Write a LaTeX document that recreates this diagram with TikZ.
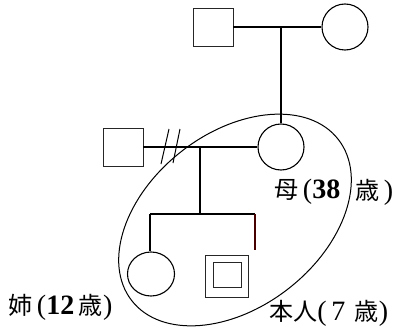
\documentclass[tikz,border=0pt]{standalone}
\usepackage{fontspec}
\usetikzlibrary{shapes.geometric}
\setmainfont{Liberation Serif}
\newfontfamily\cjk{Noto Sans CJK JP}[Scale=0.86]
\begin{document}
\begin{tikzpicture}[x=1pt,y=-1pt,
  male/.style={draw=black!85,line width=0.9pt,minimum width=40pt,minimum height=38pt,inner sep=0pt},
  female/.style={draw,circle,line width=1.1pt,minimum size=46pt,inner sep=0pt},
  tie/.style={line width=1.5pt},
  lbl/.style={anchor=west,inner sep=0pt,font=\fontsize{28}{30}\selectfont}]
\useasboundingbox (0,0) rectangle (399,329);
% grandparents
\node[male] (gf) at (213,27) {};
\node[female] (gm) at (345,27) {};
% parents
\node[male] (fa) at (123,147) {};
\node[female] (mo) at (281,147) {};
% children
\node[draw,ellipse,line width=1.1pt,minimum width=47pt,minimum height=44pt,inner sep=0pt] (si) at (151,274) {};
\node[male,minimum width=43pt,minimum height=42pt] (me) at (227,276) {};
\node[male,minimum width=28pt,minimum height=25pt] (mei) at (227,275) {};
% connectors
\draw[tie] (gf.east) -- (gm.west);
\coordinate (gmid) at (281,27);
\draw[tie] (gmid) -- (mo.north);
\draw[tie] (fa.east) -- (mo.west);
\coordinate (pm) at (200,147);
\coordinate (sib) at (200,214);
\coordinate (sl) at (150,214);
\coordinate (sr) at (255,214);
\coordinate (srd) at (255,250);
\draw[tie] (pm) -- (sib);
\draw[tie] (sl) -- (sr);
\draw[tie] (sl) -- (si.north -| sl);
\draw[tie,draw={rgb,255:red,70;green,0;blue,0}] (sr) -- (srd);
% divorce marks
\coordinate (d1a) at (161,164); \coordinate (d1b) at (169,129);
\coordinate (d2a) at (173,163); \coordinate (d2b) at (180,129);
\draw[line width=1pt] (d1a) -- (d1b);
\draw[line width=1pt] (d2a) -- (d2b);
% household boundary
\draw[line width=1pt,rotate around={38:(235,220)}] (235,220) ellipse [x radius=131pt, y radius=87pt];
% labels
\node[lbl] (lmo) at (274,192) {{\cjk 母}\,(\textbf{38}};
\node[lbl] (lmo2) at (355,192) {{\cjk 歳}\,)};
\node[lbl] (lsi) at (8,307) {{\cjk 姉}\,(\textbf{12}\,{\cjk 歳})};
\node[lbl] (lme) at (269,313) {{\cjk 本人}(\,7\,\,{\cjk 歳})};
\end{tikzpicture}
\end{document}
